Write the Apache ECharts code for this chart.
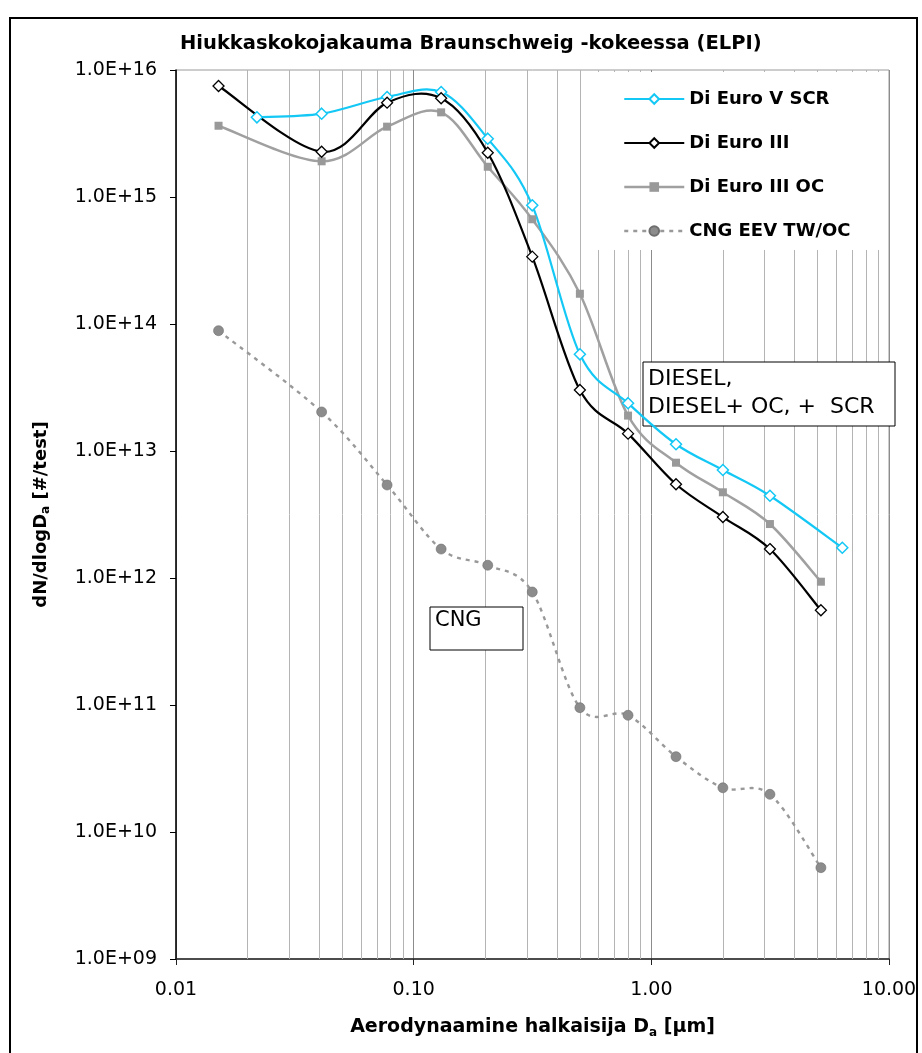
<!DOCTYPE html>
<html>
<head>
<meta charset="utf-8">
<script src="https://cdn.jsdelivr.net/npm/echarts@6/dist/echarts.min.js"></script>
<style>
  html, body { margin: 0; padding: 0; background: #fff; }
  #chart { width: 922px; height: 1053px; }
</style>
</head>
<body>
<div id="chart"></div>
<script>
// ELPI stage diameters (µm)
const sizesBase = [0.0151, 0.041, 0.0773, 0.1305, 0.205, 0.3155, 0.5005, 0.798, 1.27, 2.0, 3.155, 5.17];
const sizesScr = [0.0219, 0.041, 0.0773, 0.1305, 0.205, 0.3155, 0.5005, 0.798, 1.27, 2.0, 3.155, 6.36];

// dN/dlogDa [#/test]
const euroVScr = [4.24e15, 4.53e15, 6.13e15, 6.71e15, 2.88e15, 8.6e14, 5.77e13, 2.38e13, 1.13e13, 7.08e12, 4.44e12, 1.73e12];
const euroIII = [7.48e15, 2.27e15, 5.53e15, 5.99e15, 2.23e15, 3.39e14, 3.02e13, 1.37e13, 5.47e12, 3.02e12, 1.69e12, 5.57e11];
const euroIIIoc = [3.64e15, 1.91e15, 3.58e15, 4.64e15, 1.73e15, 6.68e14, 1.73e14, 1.90e13, 8.09e12, 4.73e12, 2.66e12, 9.35e11];
const cngEev = [8.86e13, 2.03e13, 5.40e12, 1.69e12, 1.26e12, 7.76e11, 9.53e10, 8.3e10, 3.92e10, 2.23e10, 1.98e10, 5.24e9];

const seriesNames = ['Di Euro V SCR', 'Di Euro III', 'Di Euro III OC', 'CNG EEV TW/OC'];

// minor vertical gridlines (2..9 in each decade)
const minorGridX = [0.02, 0.03, 0.04, 0.05, 0.06, 0.07, 0.08, 0.09,
                    0.2, 0.3, 0.4, 0.5, 0.6, 0.7, 0.8, 0.9,
                    2, 3, 4, 5, 6, 7, 8, 9];

const FONT = 'DejaVu Sans';

const CYAN = '#14c8f5';
const GRAY = '#a0a0a0';
const CNG_DASH = [4, 5];

function pairs(xs, ys) {
    return xs.map((x, i) => [x, ys[i]]);
}

function sciLabel(v) {
    const e = Math.round(Math.log10(v));
    const m = v / Math.pow(10, e);
    return m.toFixed(1) + 'E+' + String(e).padStart(2, '0');
}

// Excel-like smoothed curve (Catmull-Rom -> bezier) through the points, in pixel space
function curve(id, xs, ys, style) {
    return {
        id: id,
        type: 'custom',
        data: pairs(xs, ys),
        silent: true,
        z: 2,
        renderItem: (params, api) => {
            if (params.dataIndex !== 0) return null;
            const p = xs.map((x, i) => api.coord([x, ys[i]]));
            const children = [];
            for (let i = 0; i < p.length - 1; i++) {
                const p0 = p[i - 1] || p[i], p1 = p[i], p2 = p[i + 1], p3 = p[i + 2] || p[i + 1];
                children.push({
                    type: 'bezierCurve',
                    shape: {
                        x1: p1[0], y1: p1[1], x2: p2[0], y2: p2[1],
                        cpx1: p1[0] + (p2[0] - p0[0]) / 6, cpy1: p1[1] + (p2[1] - p0[1]) / 6,
                        cpx2: p2[0] - (p3[0] - p1[0]) / 6, cpy2: p2[1] - (p3[1] - p1[1]) / 6
                    },
                    style: Object.assign({ fill: null }, style)
                });
            }
            return { type: 'group', children: children };
        }
    };
}

function markers(name, xs, ys, symbol, size, itemStyle) {
    return {
        name: name,
        type: 'line',
        data: pairs(xs, ys),
        z: 3,
        symbol: symbol,
        symbolSize: size,
        lineStyle: { opacity: 0 },
        itemStyle: itemStyle
    };
}

const chart = echarts.init(document.getElementById('chart'));

const option = {
    backgroundColor: '#fff',
    animation: false,
    title: {
        text: 'Hiukkaskokojakauma Braunschweig -kokeessa (ELPI)',
        left: 175,
        top: 29,
        textStyle: { fontFamily: FONT, fontSize: 19.5, fontWeight: 'bold', color: '#000' }
    },
    grid: {
        left: 176, right: 33, top: 70, bottom: 94,
        show: true, borderColor: '#9a9a9a', borderWidth: 1
    },
    legend: {
        orient: 'vertical',
        left: 598,
        top: 72,
        padding: [18, 32, 10, 25],
        itemGap: 26,
        itemWidth: 60,
        itemHeight: 12,
        backgroundColor: '#fff',
        data: [
            { name: seriesNames[0], lineStyle: { color: CYAN, width: 2.2, opacity: 1, type: 'solid' } },
            { name: seriesNames[1], lineStyle: { color: '#000', width: 2.2, opacity: 1, type: 'solid' } },
            { name: seriesNames[2], lineStyle: { color: GRAY, width: 2.5, opacity: 1, type: 'solid' } },
            { name: seriesNames[3], lineStyle: { color: '#999', width: 2.4, opacity: 1, type: CNG_DASH } }
        ],
        textStyle: { fontFamily: FONT, fontSize: 18, fontWeight: 'bold', color: '#000' }
    },
    xAxis: {
        type: 'log',
        logBase: 10,
        min: 0.01,
        max: 10,
        name: '{n|Aerodynaamine halkaisija D}{s|a}{n| [µm]}',
        nameLocation: 'middle',
        nameGap: 57,
        nameTextStyle: {
            rich: {
                n: { fontFamily: FONT, fontSize: 19, fontWeight: 'bold', color: '#000', lineHeight: 23 },
                s: { fontFamily: FONT, fontSize: 12, fontWeight: 'bold', color: '#000', lineHeight: 23, verticalAlign: 'bottom', padding: [6, 0, 0, 0] }
            }
        },
        axisLine: { lineStyle: { color: '#222', width: 1.5 } },
        axisTick: { show: true, length: 6, lineStyle: { color: '#222' } },
        axisLabel: {
            margin: 22,
            fontFamily: FONT, fontSize: 19, color: '#000',
            formatter: v => v.toFixed(2)
        },
        splitLine: { show: true, lineStyle: { color: '#8c8c8c', width: 1 } }
    },
    yAxis: {
        type: 'log',
        logBase: 10,
        min: 1e9,
        max: 1e16,
        name: '{n|dN/dlogD}{s|a}{n| [#/test]}',
        nameLocation: 'middle',
        nameGap: 124,
        nameRotate: 90,
        nameTextStyle: {
            rich: {
                n: { fontFamily: FONT, fontSize: 18, fontWeight: 'bold', color: '#000', lineHeight: 22 },
                s: { fontFamily: FONT, fontSize: 12, fontWeight: 'bold', color: '#000', lineHeight: 22, verticalAlign: 'bottom', padding: [6, 0, 0, 0] }
            }
        },
        axisLine: { lineStyle: { color: '#000', width: 1.5 } },
        axisTick: { show: true, length: 6, lineStyle: { color: '#000' } },
        axisLabel: {
            margin: 19,
            fontFamily: FONT, fontSize: 19, color: '#000',
            formatter: sciLabel
        },
        splitLine: { show: false }
    },
    graphic: [
        {
            type: 'rect', z: 1.5,
            shape: { x: 643, y: 362, width: 252, height: 64 },
            style: { fill: '#fff', stroke: '#000', lineWidth: 1 }
        },
        {
            type: 'text', z: 1.6, left: 648, top: 365,
            style: { text: 'DIESEL,\nDIESEL+ OC, +  SCR', fontFamily: FONT, fontSize: 22, lineHeight: 28, fill: '#000' }
        },
        {
            type: 'rect', z: 1.5,
            shape: { x: 430, y: 607, width: 93, height: 43 },
            style: { fill: '#fff', stroke: '#000', lineWidth: 1 }
        },
        {
            type: 'text', z: 1.6, left: 435, top: 610,
            style: { text: 'CNG', fontFamily: FONT, fontSize: 21, fill: '#000' }
        },
        {
            type: 'rect', z: 10,
            shape: { x: 10, y: 18, width: 907, height: 1060 },
            style: { fill: 'none', stroke: '#000', lineWidth: 2 }
        }
    ],
    series: [
        {
            id: 'minor-grid',
            type: 'line',
            data: [],
            silent: true,
            markLine: {
                z: 1,
                silent: true,
                symbol: 'none',
                label: { show: false },
                lineStyle: { color: '#b4b4b4', width: 1, type: 'solid' },
                emphasis: { disabled: true },
                data: minorGridX.map(v => ({ xAxis: v }))
            }
        },
        curve('curve-cng', sizesBase, cngEev, { stroke: '#999', lineWidth: 2.4, lineDash: CNG_DASH }),
        curve('curve-oc', sizesBase, euroIIIoc, { stroke: GRAY, lineWidth: 2.5 }),
        curve('curve-scr', sizesScr, euroVScr, { stroke: CYAN, lineWidth: 2.2 }),
        curve('curve-e3', sizesBase, euroIII, { stroke: '#000', lineWidth: 2.2 }),
        markers(seriesNames[3], sizesBase, cngEev, 'circle', 10, { color: '#8c8c8c', borderColor: '#6e6e6e', borderWidth: 0.6 }),
        markers(seriesNames[2], sizesBase, euroIIIoc, 'rect', 8, { color: '#999999' }),
        markers(seriesNames[0], sizesScr, euroVScr, 'diamond', 11, { color: '#fff', borderColor: CYAN, borderWidth: 1.5 }),
        markers(seriesNames[1], sizesBase, euroIII, 'diamond', 11, { color: '#fff', borderColor: '#000', borderWidth: 1.3 })
    ]
};

chart.setOption(option);
</script>
</body>
</html>
